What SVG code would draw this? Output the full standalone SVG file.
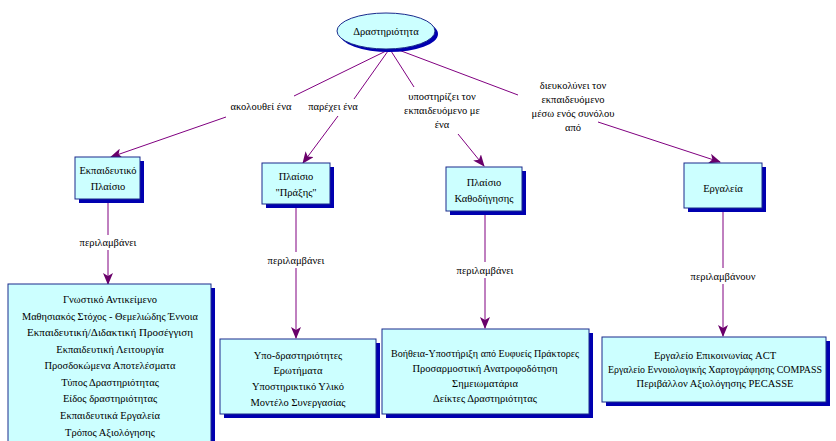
<svg xmlns="http://www.w3.org/2000/svg" width="836" height="441" viewBox="0 0 836 441">
<style>
text{font-family:"Liberation Serif","Times New Roman",serif;font-size:10.5px;text-anchor:middle;fill:#000}
.box{fill:#ccffff;stroke:#1a2a8c;stroke-width:1}
.sh{fill:#0000b0}
.ln{stroke:#800080;stroke-width:1;fill:none}
.arr{stroke:#800080;stroke-width:1;fill:none;marker-end:url(#ah)}
</style>
<defs>
<marker id="ah" markerWidth="12" markerHeight="10" refX="11" refY="5" orient="auto" markerUnits="userSpaceOnUse">
<path d="M0,0 L12,5 L0,10 L3,5 Z" fill="#6a006a"/>
</marker>
</defs>
<rect width="836" height="441" fill="#fff"/>
<g id="connectors">
<line class="ln" x1="386" y1="51" x2="294" y2="96"/>
<line class="arr" x1="226" y1="117" x2="111" y2="157"/>
<line class="ln" x1="388" y1="51" x2="354" y2="99"/>
<line class="arr" x1="338" y1="116" x2="303" y2="163"/>
<line class="ln" x1="391" y1="51" x2="414" y2="87"/>
<line class="arr" x1="458" y1="134" x2="484" y2="166"/>
<line class="ln" x1="396" y1="49" x2="518" y2="95"/>
<line class="arr" x1="598" y1="122" x2="720" y2="162"/>
<line class="ln" x1="108" y1="200" x2="108" y2="235"/>
<line class="arr" x1="108" y1="250" x2="108" y2="284"/>
<line class="ln" x1="296" y1="205" x2="296" y2="252"/>
<line class="arr" x1="296" y1="268" x2="296" y2="338"/>
<line class="ln" x1="485" y1="212" x2="485" y2="262"/>
<line class="arr" x1="485" y1="278" x2="485" y2="328"/>
<line class="ln" x1="723" y1="209" x2="723" y2="268"/>
<line class="arr" x1="723" y1="284" x2="723" y2="336"/>
<text x="261" y="110">ακολουθεί ένα</text>
<text x="333" y="110">παρέχει ένα</text>
<text x="442" y="100">υποστηρίζει τον</text>
<text x="442" y="114">εκπαιδευόμενο με</text>
<text x="442" y="128">ένα</text>
<text x="573" y="89">διευκολύνει τον</text>
<text x="573" y="103">εκπαιδευόμενο</text>
<text x="573" y="117">μέσω ενός συνόλου</text>
<text x="573" y="131">από</text>
<text x="108" y="246">περιλαμβάνει</text>
<text x="296" y="264">περιλαμβάνει</text>
<text x="485" y="274">περιλαμβάνει</text>
<text x="723" y="280">περιλαμβάνουν</text>
</g>
<g id="activity">
<ellipse class="sh" cx="389" cy="34" rx="49" ry="18"/>
<ellipse cx="386" cy="31" rx="49" ry="18" fill="#ccffff" stroke="#1a2a8c"/>
<text x="386" y="35">Δραστηριότητα</text>
</g>
<g id="edu-frame">
<rect class="sh" x="79" y="161" width="65" height="42"/>
<rect class="box" x="75" y="157" width="65" height="42"/>
<text x="108" y="174">Εκπαιδευτικό</text>
<text x="108" y="190">Πλαίσιο</text>
</g>
<g id="praxis-frame">
<rect class="sh" x="266" y="167" width="68" height="41"/>
<rect class="box" x="262" y="163" width="68" height="41"/>
<text x="296" y="180">Πλαίσιο</text>
<text x="296" y="196">"Πράξης"</text>
</g>
<g id="guidance-frame">
<rect class="sh" x="450" y="171" width="76" height="44"/>
<rect class="box" x="446" y="167" width="76" height="44"/>
<text x="484" y="186">Πλαίσιο</text>
<text x="484" y="202">Καθοδήγησης</text>
</g>
<g id="tools">
<rect class="sh" x="688" y="167" width="78" height="45"/>
<rect class="box" x="684" y="163" width="78" height="45"/>
<text x="723" y="192">Εργαλεία</text>
</g>
<g id="edu-list">
<rect class="sh" x="12" y="288" width="203" height="160"/>
<rect class="box" x="8" y="284" width="203" height="160"/>
<text x="110" y="303">Γνωστικό Αντικείμενο</text>
<text x="110" y="320" textLength="176" lengthAdjust="spacingAndGlyphs">Μαθησιακός Στόχος - Θεμελιώδης Έννοια</text>
<text x="110" y="336" textLength="166" lengthAdjust="spacingAndGlyphs">Εκπαιδευτική/Διδακτική Προσέγγιση</text>
<text x="110" y="353">Εκπαιδευτική Λειτουργία</text>
<text x="110" y="369">Προσδοκώμενα Αποτελέσματα</text>
<text x="110" y="386">Τύπος Δραστηριότητας</text>
<text x="110" y="402">Είδος δραστηριότητας</text>
<text x="110" y="419">Εκπαιδευτικά Εργαλεία</text>
<text x="110" y="436">Τρόπος Αξιολόγησης</text>
</g>
<g id="praxis-list">
<rect class="sh" x="224" y="343" width="156" height="75"/>
<rect class="box" x="220" y="339" width="156" height="75"/>
<text x="298" y="359">Υπο-δραστηριότητες</text>
<text x="298" y="374">Ερωτήματα</text>
<text x="298" y="390">Υποστηρικτικό Υλικό</text>
<text x="298" y="406">Μοντέλο Συνεργασίας</text>
</g>
<g id="guidance-list">
<rect class="sh" x="386" y="333" width="207" height="85"/>
<rect class="box" x="382" y="329" width="207" height="85"/>
<text x="485" y="357" textLength="188" lengthAdjust="spacingAndGlyphs">Βοήθεια-Υποστήριξη από Ευφυείς Πράκτορες</text>
<text x="485" y="372">Προσαρμοστική Ανατροφοδότηση</text>
<text x="485" y="387">Σημειωματάρια</text>
<text x="485" y="402">Δείκτες Δραστηριότητας</text>
</g>
<g id="tools-list">
<rect class="sh" x="606" y="341" width="224" height="65"/>
<rect class="box" x="602" y="337" width="224" height="65"/>
<text x="715" y="359">Εργαλείο Επικοινωνίας ACT</text>
<text x="715" y="373" textLength="214" lengthAdjust="spacingAndGlyphs">Εργαλείο Εννοιολογικής Χαρτογράφησης COMPASS</text>
<text x="715" y="387">Περιβάλλον Αξιολόγησης PECASSE</text>
</g>
</svg>
